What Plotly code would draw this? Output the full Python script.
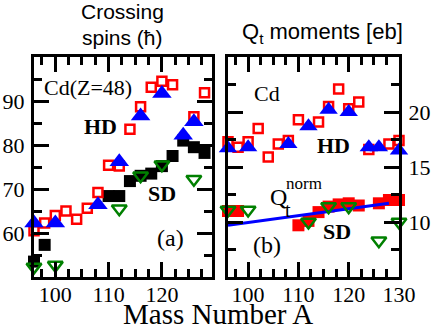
import plotly.graph_objects as go

W, H = 436, 333
SERIF = "Liberation Serif"
SANS = "Liberation Sans"
RED, BLUE, GREEN, BLACK = "#ff0000", "#0000ff", "#008000", "#000000"

# panel (a): crossing spins
a_red_x = [96, 98, 100, 102, 104, 106, 108, 110, 112, 114, 116, 118, 120, 122, 126, 128, 130]
a_red_y = [60.5, 62.3, 64, 65, 63.1, 65.6, 69.2, 75.4, 75.2, 83.6, 88.7, 93.1, 94.5, 93.7, 86.4, 91.9, 94.2]
a_blue_x = [96, 100, 108, 112, 116, 120, 124, 126, 130]
a_blue_y = [62.3, 62.3, 66.4, 76.2, 86.6, 91.7, 82.2, 85.3, 86.2]
a_black_x = [96, 98, 110, 112, 114, 116, 118, 120, 122, 124, 126, 128, 130]
a_black_y = [53.5, 57.3, 68.4, 68.4, 71.8, 73, 73.5, 75.2, 77.5, 81, 79.5, 78.2, 75.6]
a_green_x = [96, 100, 112, 116, 120, 126, 130]
a_green_y = [52.3, 52.7, 65.5, 73, 75.5, 72.2, 69]
a_ticks_x = [100, 110, 120]
a_ticks_y = [60, 70, 80, 90]

# panel (b): Qt moments
b_red_x = [96, 98, 100, 102, 104, 106, 108, 110, 114, 116, 118, 120, 122, 124, 128, 130]
b_red_y = [17.3, 16.8, 17.3, 18.5, 15.9, 17.1, 17.4, 19.3, 19.1, 20.5, 22.1, 20.3, 20.9, 16.6, 17.1, 17.4]
b_blue_x = [96, 100, 108, 112, 116, 120, 124, 126, 130]
b_blue_y = [16.7, 16.8, 17.1, 18.7, 20.2, 20.0, 16.8, 16.8, 16.5]
b_sd_x = [96, 98, 110, 112, 114, 116, 118, 120, 122, 126, 128, 130]
b_sd_y = [11.0, 11.0, 9.7, 10.1, 10.9, 11.4, 11.6, 11.7, 11.5, 11.7, 12.0, 12.0]
b_green_x = [96, 100, 112, 116, 120, 126, 130]
b_green_y = [11.1, 11.1, 10.0, 11.4, 11.4, 8.3, 10.0]
qnorm_x = [96, 128]
qnorm_y = [9.7, 11.7]
b_ticks_x = [100, 110, 120, 130]
b_ticks_y = [10, 15, 20]


def px(x, y):
    return x / W, 1 - y / H


fig = go.Figure()

mk = dict(mode="markers", showlegend=False, cliponaxis=False)
# panel (a)
fig.add_scatter(x=a_black_x, y=a_black_y, marker=dict(symbol="square", size=12, color=BLACK), **mk)
fig.add_scatter(x=a_green_x, y=a_green_y,
                marker=dict(symbol="triangle-down-open", size=13, color=GREEN, line=dict(width=2.5)), **mk)
fig.add_scatter(x=a_red_x, y=a_red_y,
                marker=dict(symbol="square-open", size=9, color=RED, line=dict(width=2.5)), **mk)
fig.add_scatter(x=a_blue_x, y=a_blue_y, marker=dict(symbol="triangle-up", size=17, color=BLUE), **mk)
# panel (b)
fig.add_scatter(x=b_sd_x, y=b_sd_y, marker=dict(symbol="square", size=12, color=RED),
                xaxis="x2", yaxis="y2", **mk)
fig.add_scatter(x=qnorm_x, y=qnorm_y, mode="lines", line=dict(color=BLUE, width=3),
                showlegend=False, xaxis="x2", yaxis="y2")
fig.add_scatter(x=b_green_x, y=b_green_y,
                marker=dict(symbol="triangle-down-open", size=13, color=GREEN, line=dict(width=2.5)),
                xaxis="x2", yaxis="y2", **mk)
fig.add_scatter(x=b_red_x, y=b_red_y,
                marker=dict(symbol="square-open", size=9, color=RED, line=dict(width=2.5)),
                xaxis="x2", yaxis="y2", **mk)
fig.add_scatter(x=b_blue_x, y=b_blue_y, marker=dict(symbol="triangle-up", size=16, color=BLUE),
                xaxis="x2", yaxis="y2", **mk)

ax = dict(showline=True, linewidth=3, linecolor=BLACK, mirror="allticks", ticks="inside",
          ticklen=15, tickwidth=3, tickcolor=BLACK, showgrid=False, zeroline=False,
          automargin=False, tickmode="array",
          tickfont=dict(family=SERIF, size=22, color=BLACK))


def minor(step):
    return dict(ticks="inside", ticklen=8, tickwidth=3, tickcolor=BLACK,
                showgrid=False, dtick=step)


top, bot = 1 - 57 / H, 1 - 277 / H

fig.update_layout(
    template="none",
    width=W, height=H, margin=dict(l=0, r=0, t=0, b=0),
    paper_bgcolor="white", plot_bgcolor="white", showlegend=False,
    xaxis=dict(ax, domain=[34 / W, 212 / W], range=[96, 129.4], tickvals=a_ticks_x,
               minor=minor(2.5), anchor="y", ticklabelstandoff=-4),
    yaxis=dict(ax, domain=[bot, top], range=[50, 100], tickvals=a_ticks_y,
               minor=minor(5), anchor="x", ticklabelstandoff=2),
    xaxis2=dict(ax, domain=[228 / W, 399 / W], range=[96, 130], tickvals=b_ticks_x,
                minor=minor(2.5), anchor="y2", ticklabelstandoff=-4),
    yaxis2=dict(ax, domain=[bot, top], range=[5, 25], tickvals=b_ticks_y, side="right",
                minor=minor(2.5), anchor="x2", ticklabelstandoff=2),
)

notes = [
    ("Crossing", 123, 12, SANS, 21, False),
    ("spins (ħ)", 123, 38, SANS, 21, False),
    ("Q<sub>t</sub> moments [eb]", 322, 33, SANS, 22, False),
    ("Mass Number A", 218, 314, SERIF, 29, False),
    ("Cd(Z=48)", 88, 87, SERIF, 22, False),
    ("HD", 100, 127, SERIF, 22, True),
    ("SD", 162, 193, SERIF, 22, True),
    ("(a)", 170, 238, SERIF, 24, False),
    ("Cd", 267, 93, SERIF, 22, False),
    ("HD", 333, 145, SERIF, 22, True),
    ("SD", 337, 232, SERIF, 22, True),
    ("(b)", 267, 245, SERIF, 24, False),
    ("Q", 278, 197, SERIF, 24, False),
    ("t", 288, 210, SERIF, 20, False),
    ("norm", 304, 183, SERIF, 17, False),
]
for text, x, y, fam, size, bold in notes:
    xp, yp = px(x, y)
    fig.add_annotation(x=xp, y=yp, xref="paper", yref="paper", showarrow=False,
                       text=f"<b>{text}</b>" if bold else text,
                       font=dict(family=fam, size=size, color=BLACK),
                       xanchor="center", yanchor="middle")

# drop the browser's default 8px body margin so the figure sits at (0, 0)
fig.write_html("out.html", config={"displayModeBar": False},
               post_script="document.body.style.margin='0';document.body.style.overflow='hidden';")
